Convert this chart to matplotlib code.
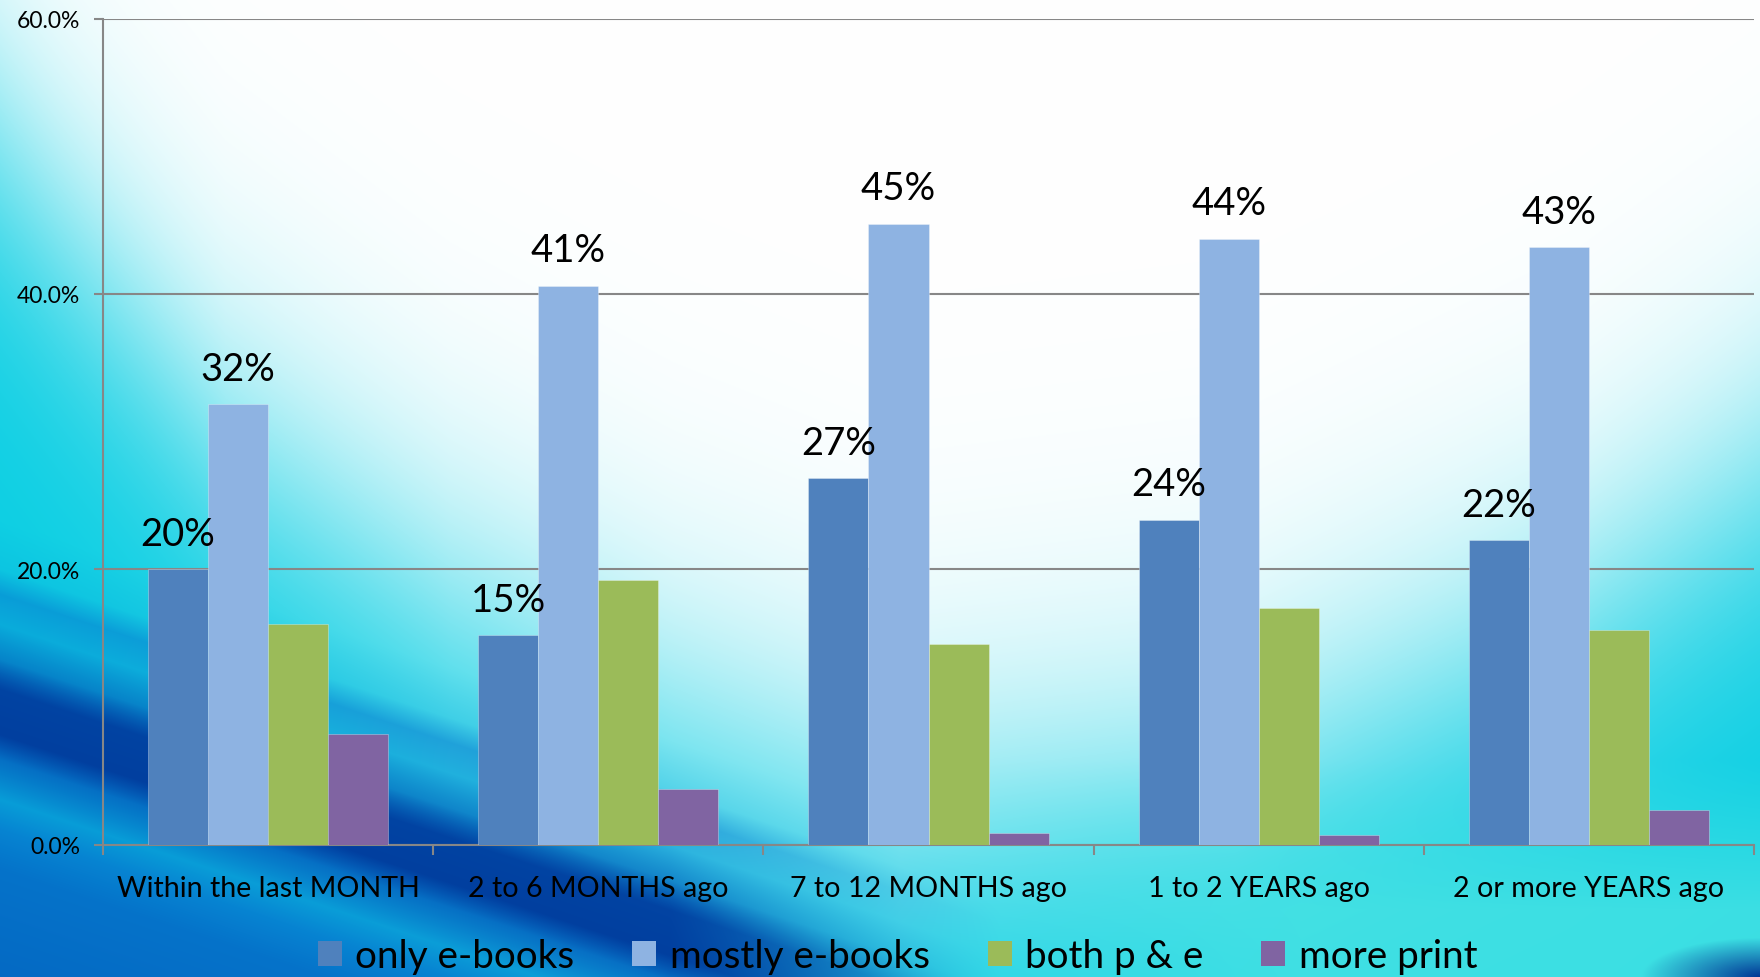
import numpy as np
import matplotlib
matplotlib.use("Agg")
import matplotlib.pyplot as plt
from matplotlib import font_manager as fm
from matplotlib.patches import Patch

# ---------------- data ----------------
categories = ["Within the last MONTH", "2 to 6 MONTHS ago", "7 to 12 MONTHS ago",
              "1 to 2 YEARS ago", "2 or more YEARS ago"]
series_names = ["only e-books", "mostly e-books", "both p & e", "more print"]
only_ebooks = [20.0, 15.2, 26.6, 23.6, 22.1]
mostly_ebooks = [32.0, 40.6, 45.1, 44.0, 43.4]
both_p_e = [16.0, 19.2, 14.6, 17.2, 15.6]
more_print = [8.0, 4.0, 0.8, 0.7, 2.5]
yticks = [0, 20, 40, 60]
ytick_labels = ["0.0%", "20.0%", "40.0%", "60.0%"]
labelled_series = [0, 1]   # data labels on first two series

colors = ["#4F81BD", "#8EB3E2", "#9BBB59", "#8064A2"]

# ---------------- fonts ----------------
plt.rcParams["font.family"] = ["Lato", "DejaVu Sans"]

W, H = 1760, 978
fig = plt.figure(figsize=(W / 100, H / 100), dpi=100)

# ---------------- background ----------------
yy, xx = np.mgrid[0:H, 0:W].astype(float)
cyan = np.array([0.04, 0.81, 0.89])
white = np.array([1.0, 1.0, 1.0])
blue = np.array([0.02, 0.42, 0.80])
dark = np.array([0.0, 0.20, 0.58])
turq = np.array([0.28, 0.89, 0.89])

bx = [0, 60, 225, 450, 673, 900, 1235, 1570, 1760]
by = [150, 230, 440, 610, 730, 820, 780, 620, 480]
yb = np.interp(xx, bx, by)
wf = 1 / (1 + np.exp(-(yb - yy) / 95))
img = cyan[None, None, :] * (1 - wf[..., None]) + white[None, None, :] * wf[..., None]

# turquoise tint bottom-right
tq = np.clip((xx - 900) / 400, 0, 1) * np.clip((yy - 760) / 150, 0, 1) * 0.8
img = img * (1 - tq[..., None]) + turq * tq[..., None]

# diagonal blue bands bottom-left
p = yy - 0.33 * xx
pp = [520, 570, 595, 625, 660, 690, 735, 760, 800, 830, 870, 1000]
Bv = [0.0, 0.1, 0.5, 0.35, 0.55, 0.9, 0.95, 0.8, 0.5, 0.75, 0.85, 0.9]
Dv = [0.0, 0.0, 0.0, 0.0, 0.2, 0.75, 0.8, 0.2, 0.0, 0.0, 0.1, 0.2]
fade = np.clip((1000 - xx) / 330, 0, 1)
Bm = np.interp(p, pp, Bv) * fade
Dm = np.interp(p, pp, Dv) * fade
img = img * (1 - Bm[..., None]) + blue * Bm[..., None]
img = img * (1 - Dm[..., None]) + dark * Dm[..., None]
# small dark corner bottom-right
cr = np.clip(1 - np.hypot((xx - 1760) / 120, (yy - 978) / 40), 0, 1)
img = img * (1 - cr[..., None]) + dark * cr[..., None]

bg = fig.add_axes([0, 0, 1, 1], zorder=-10)
bg.imshow(np.clip(img, 0, 1), aspect="auto", extent=[0, 1, 0, 1], interpolation="bilinear")
bg.set_axis_off()

# ---------------- main chart ----------------
ax = fig.add_axes([103 / W, 1 - 845.5 / H, (1754 - 103) / W, (845.5 - 19.5) / H])
ax.set_facecolor("none")

data = [only_ebooks, mostly_ebooks, both_p_e, more_print]
n = len(data)
bw = 1 / (n + 1.5)
x = np.arange(len(categories))
for i, vals in enumerate(data):
    pos = x + (i - (n - 1) / 2) * bw
    ax.bar(pos, vals, width=bw, color=colors[i], edgecolor=(1, 1, 1, 0.35),
           linewidth=0.6, zorder=3, label=series_names[i])
    if i in labelled_series:
        for xp, v in zip(pos, vals):
            ax.annotate(f"{v:.0f}%", (xp, v), xytext=(0, 17.5), textcoords="offset points",
                        ha="center", va="baseline", fontsize=27.5, color="black", zorder=4)

ax.set_xlim(-0.5, len(categories) - 0.5)
ax.set_ylim(0, 60)
ax.set_yticks(yticks)
ax.set_yticklabels(ytick_labels)
ax.yaxis.grid(True, color="#878787", linewidth=1.5, zorder=0)
ax.set_axisbelow(True)

ax.set_xticks(x)
ax.set_xticklabels(categories)
ax.set_xticks(np.arange(len(categories) + 1) - 0.5, minor=True)
ax.tick_params(axis="x", which="major", length=0, pad=22, labelsize=20.6)
ax.tick_params(axis="x", which="minor", length=7, width=1.5, color="#878787", direction="out")
ax.tick_params(axis="y", which="major", length=6.5, width=1.5, color="#878787", pad=10,
               labelsize=16.5)

for s in ["top", "right"]:
    ax.spines[s].set_visible(False)
for s in ["left", "bottom"]:
    ax.spines[s].set_color("#878787")
    ax.spines[s].set_linewidth(1.5)

handles = [Patch(facecolor=c, edgecolor="none") for c in colors]
fig.legend(handles, series_names, loc="center", bbox_to_anchor=(0.51, 0.021), ncol=4,
           frameon=False, fontsize=27.8, handlelength=0.62, handleheight=0.62,
           handletextpad=0.35, columnspacing=1.5)

fig.savefig("out.png", dpi=100)
